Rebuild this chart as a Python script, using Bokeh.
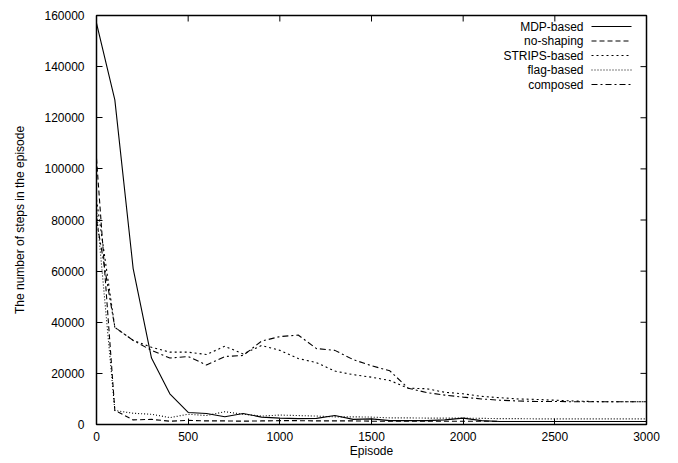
import math
from bokeh.plotting import figure
from bokeh.models import (Range1d, Label, Arrow, BasicTickFormatter, FixedTicker)
from bokeh.embed import file_html
from bokeh.resources import INLINE

episodes = list(range(0, 3001, 100))

mdp_based = [157000, 127000, 61000, 26000, 12000, 4700, 4300, 3000, 4300, 2900,
             2500, 2300, 2400, 3500, 2000, 2200, 1500, 1500, 1500, 1800,
             2500, 1500, 1200, 1200, 1200, 1200, 1200, 1200, 1200, 1200, 1200]
no_shaping = [104000, 5500, 1800, 2000, 1300, 1600, 1400, 1400, 1300, 1400,
              1500, 1500, 1400, 1400, 1400, 1300, 1300, 1300, 1300, 1300,
              1300, 1300, 1200, 1200, 1200, 1200, 1200, 1200, 1200, 1200, 1200]
strips_based = [88000, 38000, 32900, 30200, 28300, 28300, 27400, 30600, 27600, 30900,
                29000, 25800, 24200, 20900, 19500, 18500, 17200, 14200, 14000, 12600,
                12000, 11000, 10500, 10000, 9800, 9500, 9200, 9000, 8900, 8900, 8900]
flag_based = [84000, 5500, 4400, 4000, 2700, 4000, 3500, 5000, 4000, 3300,
              3700, 3500, 3300, 3000, 3000, 2900, 2600, 2600, 2500, 2500,
              2500, 2400, 2300, 2300, 2200, 2200, 2200, 2200, 2200, 2200, 2200]
composed = [80000, 38000, 32900, 29000, 26000, 26600, 23300, 26600, 27000, 32600,
            34400, 35000, 29700, 29000, 25400, 23000, 21000, 14200, 12500, 11500,
            10700, 10000, 9500, 9200, 9000, 9000, 8900, 8900, 8900, 8900, 8900]

series_names = ["MDP-based", "no-shaping", "STRIPS-based", "flag-based", "composed"]
x_ticks = [0, 500, 1000, 1500, 2000, 2500, 3000]
y_ticks = [0, 20000, 40000, 60000, 80000, 100000, 120000, 140000, 160000]
x_max = 3000
y_max = 160000

FONT = "Liberation Sans"

p = figure(width=670, height=463, output_backend="svg", toolbar_location=None,
           x_range=Range1d(0, x_max), y_range=Range1d(0, y_max),
           min_border_left=96, min_border_right=24, min_border_top=15, min_border_bottom=39)
p.grid.visible = False
p.background_fill_color = "white"
p.border_fill_color = "white"
p.outline_line_color = "black"
p.outline_line_width = 1.5

for ax, ticks in ((p.xaxis[0], x_ticks), (p.yaxis[0], y_ticks)):
    ax.ticker = FixedTicker(ticks=ticks)
    ax.formatter = BasicTickFormatter(use_scientific=False)
    ax.axis_line_color = None
    ax.major_tick_in = 6
    ax.major_tick_out = 0
    ax.major_tick_line_color = "black"
    ax.major_tick_line_width = 1
    ax.minor_tick_line_color = None
    ax.major_label_text_font = FONT
    ax.major_label_text_font_size = "12px"
    ax.major_label_text_color = "black"
    ax.axis_label_text_font = FONT
    ax.axis_label_text_font_size = "12px"
    ax.axis_label_text_font_style = "normal"
    ax.axis_label_text_color = "black"

p.xaxis[0].major_label_standoff = 7
p.yaxis[0].major_label_standoff = 12
p.xaxis[0].axis_label = "Episode"
p.xaxis[0].axis_label_standoff = 0
p.yaxis[0].axis_label = "The number of steps in the episode"
p.yaxis[0].axis_label_standoff = 14

# mirrored ticks on top and right (gnuplot style), from the tick lists
p.ray(x=x_ticks, y=[y_max] * len(x_ticks), length=6, length_units="screen",
      angle=-math.pi / 2, line_color="black", line_width=1)
p.ray(x=[x_max] * len(y_ticks), y=y_ticks, length=6, length_units="screen",
      angle=math.pi, line_color="black", line_width=1)

dashes = ["solid", "5 3", "2 3", "1 2", "6 3 2 3"]
data = [mdp_based, no_shaping, strips_based, flag_based, composed]

for ys, dash in zip(data, dashes):
    p.line(episodes, ys, line_color="black", line_width=1.1, line_dash=dash)

# legend: labels right-aligned, sample lines to the right (gnuplot style)
for i, (name, dash) in enumerate(zip(series_names, dashes)):
    yy = 398 - i * 14.5
    p.add_layout(Label(x=487, y=yy, x_units="screen", y_units="screen",
                       text=name, text_align="right", text_baseline="middle",
                       text_font=FONT, text_font_size="12px", text_color="black"))
    p.add_layout(Arrow(x_start=495, y_start=yy, x_end=535, y_end=yy,
                       start_units="screen", end_units="screen",
                       start=None, end=None, line_color="black",
                       line_width=1.1, line_dash=dash))

open("out.html", "w").write(file_html(p, INLINE))
